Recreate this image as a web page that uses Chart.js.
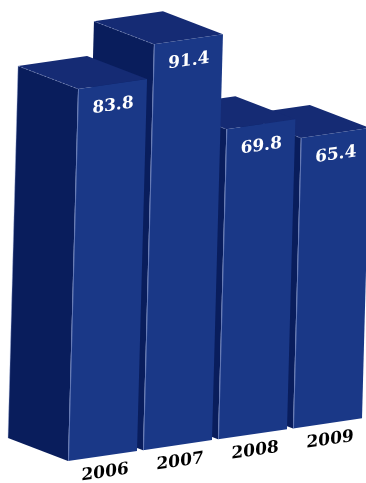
<!DOCTYPE html>
<html><head><meta charset="utf-8">
<script src="https://cdn.jsdelivr.net/npm/chart.js@4/dist/chart.umd.min.js"></script>
<style>html,body{margin:0;padding:0;background:#fff;overflow:hidden}</style>
</head><body>
<canvas id="c" width="366" height="483"></canvas>
<script>
const categories = ['2006', '2007', '2008', '2009'];
const values = [83.8, 91.4, 69.8, 65.4];
const valueLabels = ['83.8', '91.4', '69.8', '65.4'];
const yMin = 0;
const yMax = 100;

const SHEAR_X = -0.027;
const SHEAR_Y = -0.145;
const DEPTH = {x: -60, y: -23};
const COL_FRONT = '#1a3887';
const COL_SIDE = '#091d5c';
const COL_TOP = '#152b74';
const EDGE = 'rgba(165,180,225,0.5)';

function pivotOf(chart) {
  const b = chart.getDatasetMeta(0).data[0];
  return {x: b.x - b.width / 2, y: chart.scales.y.getPixelForValue(0)};
}
function toScreen(p, x, y) {
  return {x: p.x + (x - p.x) + SHEAR_X * (y - p.y), y: p.y + SHEAR_Y * (x - p.x) + (y - p.y)};
}
function poly(ctx, pts, fill) {
  ctx.beginPath();
  ctx.moveTo(pts[0].x, pts[0].y);
  for (let i = 1; i < pts.length; i++) ctx.lineTo(pts[i].x, pts[i].y);
  ctx.closePath();
  ctx.fillStyle = fill;
  ctx.fill();
}
function line(ctx, a, b) {
  ctx.beginPath(); ctx.moveTo(a.x, a.y); ctx.lineTo(b.x, b.y); ctx.stroke();
}
function applyShear(ctx, p) {
  ctx.translate(p.x, p.y);
  ctx.transform(1, SHEAR_Y, SHEAR_X, 1, 0, 0);
  ctx.translate(-p.x, -p.y);
}

const box3d = {
  id: 'box3d',
  beforeDatasetsDraw(chart) {
    const ctx = chart.ctx, p = pivotOf(chart), meta = chart.getDatasetMeta(0);
    const add = q => ({x: q.x + DEPTH.x, y: q.y + DEPTH.y});
    for (let i = meta.data.length - 1; i >= 0; i--) {
      const b = meta.data[i];
      const l = b.x - b.width / 2, r = b.x + b.width / 2;
      const flt = toScreen(p, l, b.y), flb = toScreen(p, l, b.base), frt = toScreen(p, r, b.y);
      poly(ctx, [flb, flt, add(flt), add(flb)], COL_SIDE);
      poly(ctx, [flt, frt, add(frt), add(flt)], COL_TOP);
      ctx.save();
      ctx.strokeStyle = EDGE; ctx.lineWidth = 0.8;
      if (i === 0) line(ctx, add(flt), add(flb));
      ctx.setLineDash([2, 2]);
      line(ctx, add(flt), flt);
      ctx.restore();
    }
    ctx.save();
    applyShear(ctx, p);
  },
  afterDatasetsDraw(chart) {
    const ctx = chart.ctx;
    ctx.restore();
    const p = pivotOf(chart), meta = chart.getDatasetMeta(0);
    ctx.save();
    applyShear(ctx, p);
    ctx.textAlign = 'center';
    ctx.textBaseline = 'middle';
    ctx.font = 'bold 17px "DejaVu Serif"';
    meta.data.forEach((b, i) => {
      const l = b.x - b.width / 2;
      ctx.strokeStyle = EDGE; ctx.lineWidth = 1;
      line(ctx, {x: l + 0.5, y: b.y}, {x: l + 0.5, y: b.base});
      ctx.fillStyle = '#ffffff';
      ctx.fillText(valueLabels[i], b.x + 1, b.y + 22);
      ctx.fillStyle = '#000000';
      ctx.fillText(chart.data.labels[i], b.x + 3, b.base + 17);
    });
    ctx.restore();
  }
};

new Chart(document.getElementById('c'), {
  type: 'bar',
  data: {
    labels: categories,
    datasets: [{
      data: values,
      backgroundColor: COL_FRONT,
      borderWidth: 0,
      barPercentage: 0.92,
      categoryPercentage: 1,
      clip: false
    }]
  },
  options: {
    responsive: false,
    animation: false,
    events: [],
    layout: {padding: {left: 65, right: 1, top: 17, bottom: 22}},
    plugins: {legend: {display: false}, tooltip: {enabled: false}},
    scales: {
      x: {display: false},
      y: {display: false, min: yMin, max: yMax}
    }
  },
  plugins: [box3d]
});
</script>
</body></html>
